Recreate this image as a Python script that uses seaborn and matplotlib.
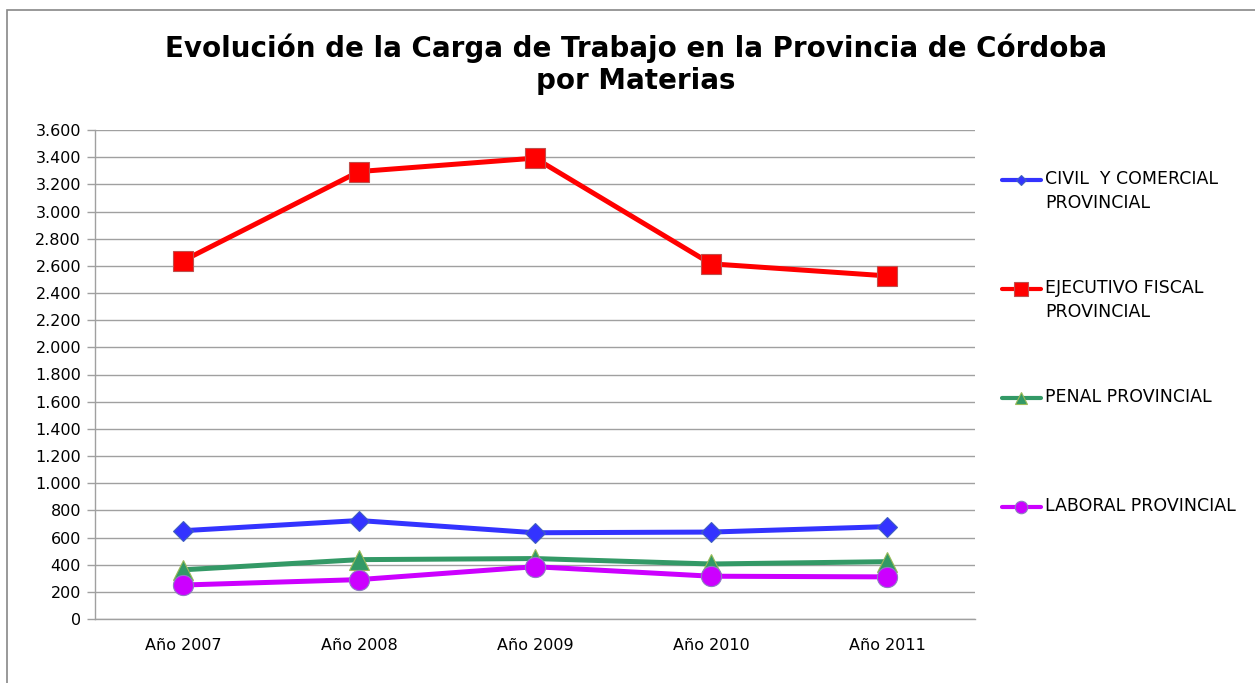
import matplotlib
matplotlib.use("Agg")
import matplotlib.pyplot as plt
import seaborn as sns
import pandas as pd
from matplotlib.lines import Line2D
from matplotlib.patches import Rectangle
from matplotlib.ticker import FuncFormatter, MultipleLocator, FixedLocator

years = ["Año 2007", "Año 2008", "Año 2009", "Año 2010", "Año 2011"]
series_names = ["CIVIL  Y COMERCIAL\nPROVINCIAL", "EJECUTIVO FISCAL\nPROVINCIAL",
                "PENAL PROVINCIAL", "LABORAL PROVINCIAL"]
civil = [650, 725, 635, 640, 680]
ejecutivo = [2637, 3294, 3393, 2615, 2526]
penal = [362, 437, 445, 405, 422]
laboral = [250, 290, 385, 315, 310]

colors = ["#3333FF", "#FF0000", "#339966", "#CC00FF"]
markers = ["D", "s", "^", "o"]
plot_msizes = [10, 14.5, 14.5, 14.5]
legend_msizes = [5.5, 9.5, 9, 9]
medges = ["#4060C0", "#C0504D", "#9BBB59", "#8E7CC3"]

sns.set_theme(style="white")
plt.rcParams['font.family'] = ['DejaVu Sans']
plt.rcParams['text.color'] = 'black'
plt.rcParams['xtick.color'] = 'black'
plt.rcParams['ytick.color'] = 'black'

fig = plt.figure(figsize=(12.55, 6.83), dpi=100)
W, H = 1255, 683
ax = fig.add_axes([95 / W, (H - 619) / H, (975 - 95) / W, (619 - 130) / H])

df = pd.DataFrame({"x": list(range(5)) * 4,
                   "v": civil + ejecutivo + penal + laboral,
                   "s": sum([[n] * 5 for n in series_names], [])})
for i, n in enumerate(series_names):
    sub = df[df.s == n]
    sns.lineplot(data=sub, x="x", y="v", ax=ax, color=colors[i], lw=3.6,
                 marker=markers[i], markersize=plot_msizes[i], markeredgecolor=medges[i],
                 markeredgewidth=0.8, legend=False, zorder=3 + i)

ax.set_xlim(-0.5, 4.5)
ax.set_ylim(0, 3600)
ax.yaxis.set_major_locator(MultipleLocator(200))
ax.yaxis.set_major_formatter(FuncFormatter(lambda v, p: f"{int(v):,}".replace(",", ".")))
ax.xaxis.set_major_locator(FixedLocator(range(5)))
ax.set_xticklabels(years)
ax.xaxis.set_minor_locator(FixedLocator([-0.5, 0.5, 1.5, 2.5, 3.5, 4.5]))
ax.tick_params(axis="x", which="major", length=0, pad=14, labelsize=11.5, labelcolor="black")
ax.tick_params(axis="x", which="minor", length=6, color="#A0A0A0", width=1, direction="out")
ax.tick_params(axis="y", which="major", length=6, color="#A0A0A0", width=1, direction="out",
               labelsize=11.5, pad=4, left=True, labelcolor="black")
ax.set_xlabel("")
ax.set_ylabel("")
ax.grid(axis="y", color="#A0A0A0", lw=1)
ax.set_axisbelow(True)
for s in ["top", "right"]:
    ax.spines[s].set_visible(False)
for s in ["left", "bottom"]:
    ax.spines[s].set_color("#A0A0A0")
    ax.spines[s].set_linewidth(1)

fig.text(636 / W, 1 - 64 / H, "Evolución de la Carga de Trabajo en la Provincia de Córdoba\npor Materias",
         ha="center", va="center", fontsize=20, fontweight="bold", linespacing=1.2, color="black")

# Legend (manual placement)
ys = [180, 289, 398, 507]
for i, n in enumerate(series_names):
    y = 1 - ys[i] / H
    fig.add_artist(Line2D([1002 / W, 1041 / W], [y, y], color=colors[i], lw=3,
                          transform=fig.transFigure))
    fig.add_artist(Line2D([1021 / W], [y], color=colors[i], marker=markers[i],
                          markersize=legend_msizes[i], markeredgecolor=medges[i],
                          markeredgewidth=0.8, transform=fig.transFigure))
    fig.text(1045 / W, y + 10 / H, n, ha="left", va="top", fontsize=12.5,
             linespacing=1.45, color="black")

fig.add_artist(Rectangle((7 / W, -0.1), 1.2, 1 - 10 / H + 0.1, transform=fig.transFigure,
                         fill=False, edgecolor="#888888", lw=1.2))

fig.savefig("out.png", dpi=100)
